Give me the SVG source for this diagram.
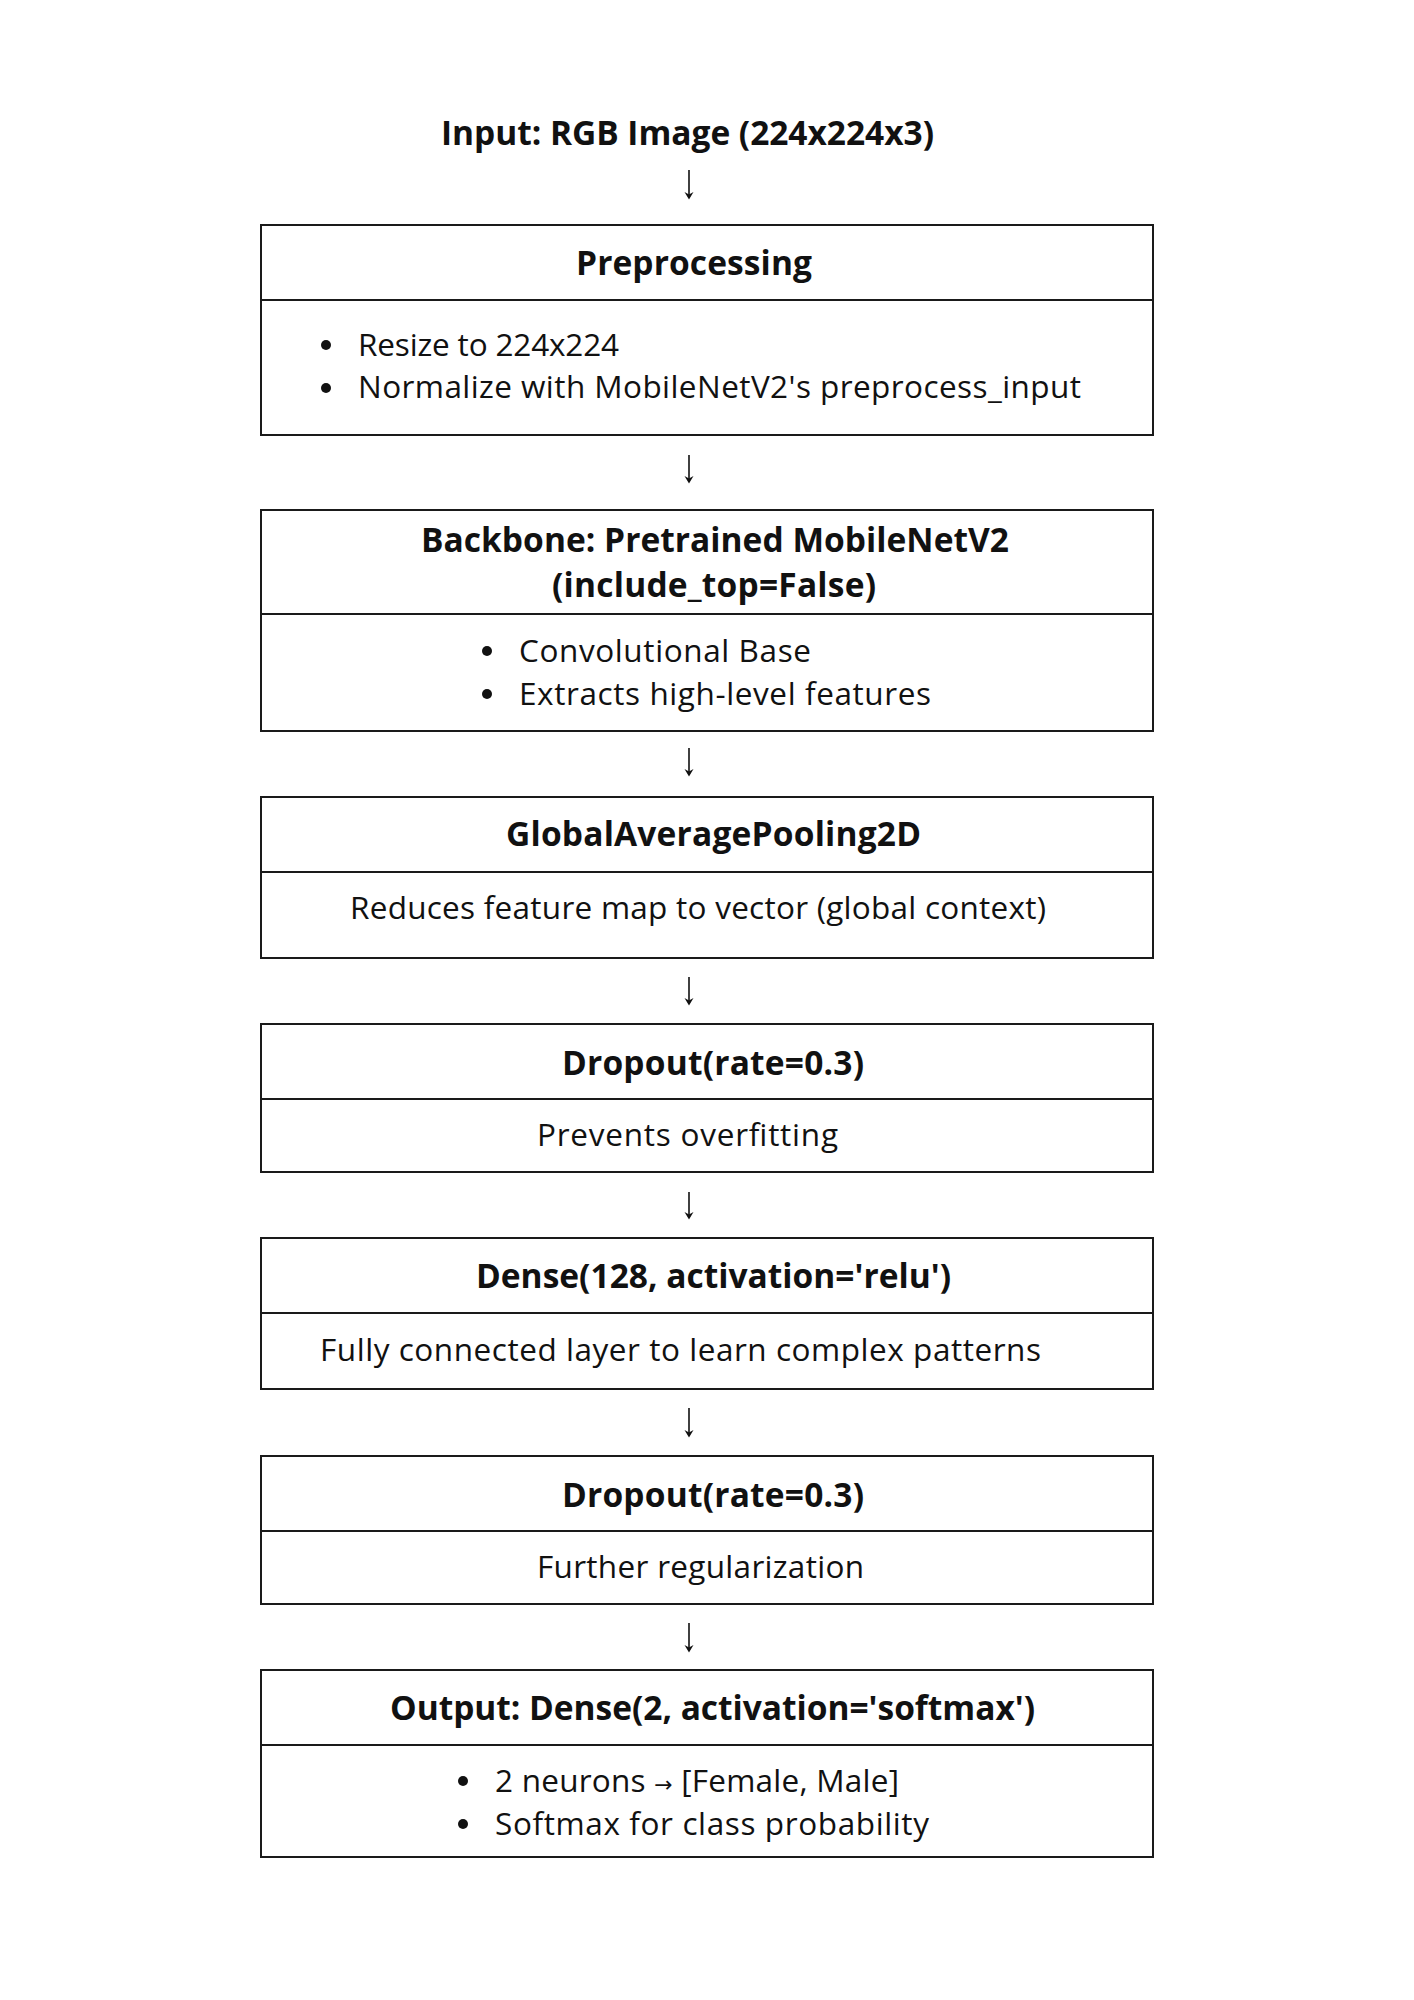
<svg xmlns="http://www.w3.org/2000/svg" width="1414" height="2000" viewBox="0 0 1414 2000">
<defs>
<style>
.box{fill:#fff;stroke:#1a1a1a;stroke-width:2}
.div{stroke:#1a1a1a;stroke-width:2}
.t{font-family:"Open Sans","Liberation Sans",sans-serif;font-weight:700;font-size:33.5px;fill:#111}
.b{font-family:"Open Sans","Liberation Sans",sans-serif;font-weight:400;font-size:31.5px;fill:#111}
.sym{font-family:"DejaVu Sans",sans-serif;font-size:22px}
.dot{fill:#111}
.arr{stroke:#111;stroke-width:1.6;fill:none}
.head{fill:#111}
</style>
</defs>
<rect width="1414" height="2000" fill="#fff"/>
<g id="input">
<text class="t" x="441" y="145" textLength="493">Input: RGB Image (224x224x3)</text>
</g>
<g id="preprocessing">
<rect class="box" x="261" y="225" width="892" height="210"/>
<line class="div" x1="261" y1="300" x2="1153" y2="300"/>
<text class="t" x="576" y="275" textLength="236">Preprocessing</text>
<circle class="dot" cx="326" cy="345" r="5"/>
<text class="b" x="358" y="356" textLength="261">Resize to 224x224</text>
<circle class="dot" cx="326" cy="388" r="5"/>
<text class="b" x="358" y="398" textLength="723">Normalize with MobileNetV2's preprocess_input</text>
</g>
<g id="backbone">
<rect class="box" x="261" y="510" width="892" height="221"/>
<line class="div" x1="261" y1="614" x2="1153" y2="614"/>
<text class="t" x="421" y="552" textLength="588">Backbone: Pretrained MobileNetV2</text>
<text class="t" x="552" y="597" textLength="324">(include_top=False)</text>
<circle class="dot" cx="487" cy="651" r="5"/>
<text class="b" x="519" y="662" textLength="292">Convolutional Base</text>
<circle class="dot" cx="487" cy="694" r="5"/>
<text class="b" x="519" y="705" textLength="412">Extracts high-level features</text>
</g>
<g id="gap">
<rect class="box" x="261" y="797" width="892" height="161"/>
<line class="div" x1="261" y1="872" x2="1153" y2="872"/>
<text class="t" x="506" y="846" textLength="415">GlobalAveragePooling2D</text>
<text class="b" x="350" y="919" textLength="696">Reduces feature map to vector (global context)</text>
</g>
<g id="dropout1">
<rect class="box" x="261" y="1024" width="892" height="148"/>
<line class="div" x1="261" y1="1099" x2="1153" y2="1099"/>
<text class="t" x="562" y="1075" textLength="302">Dropout(rate=0.3)</text>
<text class="b" x="537" y="1146" textLength="301">Prevents overfitting</text>
</g>
<g id="dense128">
<rect class="box" x="261" y="1238" width="892" height="151"/>
<line class="div" x1="261" y1="1313" x2="1153" y2="1313"/>
<text class="t" x="476" y="1288" textLength="475">Dense(128, activation='relu')</text>
<text class="b" x="320" y="1361" textLength="721">Fully connected layer to learn complex patterns</text>
</g>
<g id="dropout2">
<rect class="box" x="261" y="1456" width="892" height="148"/>
<line class="div" x1="261" y1="1531" x2="1153" y2="1531"/>
<text class="t" x="562" y="1507" textLength="302">Dropout(rate=0.3)</text>
<text class="b" x="537" y="1578" textLength="327">Further regularization</text>
</g>
<g id="output">
<rect class="box" x="261" y="1670" width="892" height="187"/>
<line class="div" x1="261" y1="1745" x2="1153" y2="1745"/>
<text class="t" x="390" y="1720" textLength="645">Output: Dense(2, activation='softmax')</text>
<circle class="dot" cx="463" cy="1781" r="5"/>
<text class="b" x="495" y="1792" textLength="404">2 neurons <tspan class="sym">→</tspan> [Female, Male]</text>
<circle class="dot" cx="463" cy="1824" r="5"/>
<text class="b" x="495" y="1835" textLength="434">Softmax for class probability</text>
</g>
<g id="connectors">
<path class="arr" d="M689 170V197"/><path class="head" d="M684.5 192L689 199.5L693.5 192L689 194.5Z"/>
<path class="arr" d="M689 455V481"/><path class="head" d="M684.5 476L689 483.5L693.5 476L689 478.5Z"/>
<path class="arr" d="M689 748V774"/><path class="head" d="M684.5 769L689 776.5L693.5 769L689 771.5Z"/>
<path class="arr" d="M689 977V1003"/><path class="head" d="M684.5 998L689 1005.5L693.5 998L689 1000.5Z"/>
<path class="arr" d="M689 1192V1217"/><path class="head" d="M684.5 1212L689 1219.5L693.5 1212L689 1214.5Z"/>
<path class="arr" d="M689 1408V1435"/><path class="head" d="M684.5 1430L689 1437.5L693.5 1430L689 1432.5Z"/>
<path class="arr" d="M689 1623V1650"/><path class="head" d="M684.5 1645L689 1652.5L693.5 1645L689 1647.5Z"/>
</g>
</svg>
